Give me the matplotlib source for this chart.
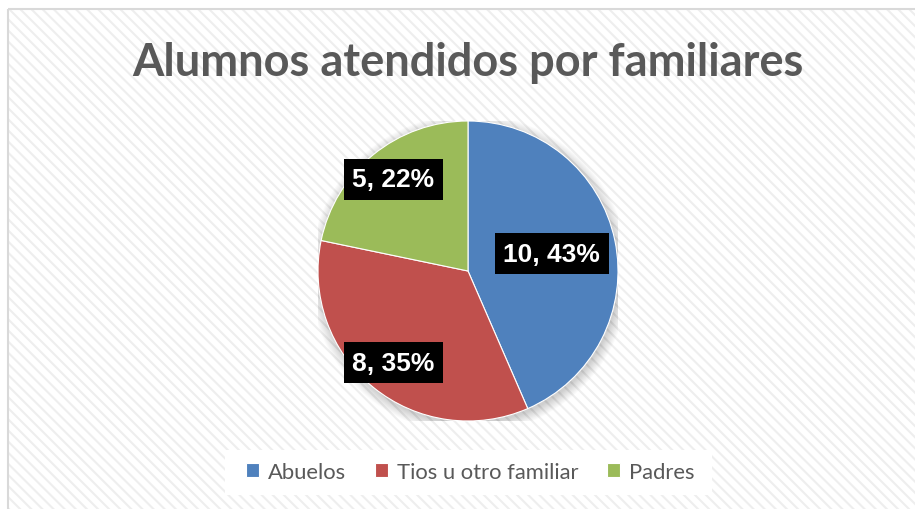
import matplotlib
matplotlib.use("Agg")
import matplotlib.pyplot as plt
import numpy as np
from matplotlib.patches import Rectangle, Circle

# Data
categories = ["Abuelos", "Tios u otro familiar", "Padres"]
values = [10, 8, 5]
colors = ["#4F81BD", "#C0504D", "#9BBB59"]
title = "Alumnos atendidos por familiares"

W, H = 915, 510
plt.rcParams['hatch.linewidth'] = 1.5
fig = plt.figure(figsize=(W / 100, H / 100), dpi=100)
fig.patch.set_facecolor("white")

# background axes (pixel coordinates)
bg = fig.add_axes([0, 0, 1, 1])
bg.set_xlim(0, W)
bg.set_ylim(H, 0)
bg.axis("off")
bg.add_patch(Rectangle((8, 10), W, H, facecolor="white", edgecolor="none", zorder=0))
bg.add_patch(Rectangle((8, 10), W, H, facecolor="none", edgecolor="#eeeeee",
                       hatch="\\\\\\", linewidth=0, zorder=1))
bg.add_patch(Rectangle((8, 10), W, H, facecolor="none", edgecolor="#d9d9d9",
                       linewidth=1.5, zorder=2))
bg.add_patch(Rectangle((225, 451), 487, 45, facecolor="white", edgecolor="none", zorder=3))
bg.text(468, 63, title, ha="center", va="center", fontsize=32.5,
        fontweight="bold", family="Lato", color="#595959", zorder=3)

# pie axes
cx, cy, r = 468, 272, 150
ax = fig.add_axes([(cx - r) / W, (H - cy - r) / H, 2 * r / W, 2 * r / H])
ax.set_facecolor("none")
for k in range(12):
    ax.add_patch(Circle((0.01, -0.02), 1.0 + 0.006 * k, facecolor="#000000",
                        alpha=0.015, edgecolor="none", zorder=0))
wedges, _ = ax.pie(values, colors=colors, startangle=90, counterclock=False,
                   radius=1.0, wedgeprops=dict(linewidth=0.8, edgecolor="white"))
for w in wedges:
    w.set_zorder(2)
ax.set_xlim(-1, 1)
ax.set_ylim(-1, 1)
ax.set_aspect("equal")
ax.axis("off")

total = sum(values)
label_r = [0.57, 0.79, 0.79]
for w, v, lr in zip(wedges, values, label_r):
    th = np.deg2rad((w.theta1 + w.theta2) / 2)
    pct = round(100 * v / total)
    ax.text(lr * np.cos(th), lr * np.sin(th), f"{v}, {pct}%", ha="center", va="center",
            fontsize=19, fontweight="bold", family="Liberation Sans", color="white",
            zorder=5, bbox=dict(boxstyle="square,pad=0.32", facecolor="black", edgecolor="none"))

leg = fig.legend(wedges, categories, loc="center", bbox_to_anchor=(470 / W, 1 - 473 / H),
                 ncol=3, frameon=False, handlelength=0.6, handleheight=0.6,
                 handletextpad=0.4, columnspacing=1.3, borderpad=0.2,
                 prop=dict(family="Lato", size=15.8))
for t in leg.get_texts():
    t.set_color("#595959")

fig.savefig("out.png", dpi=100)
